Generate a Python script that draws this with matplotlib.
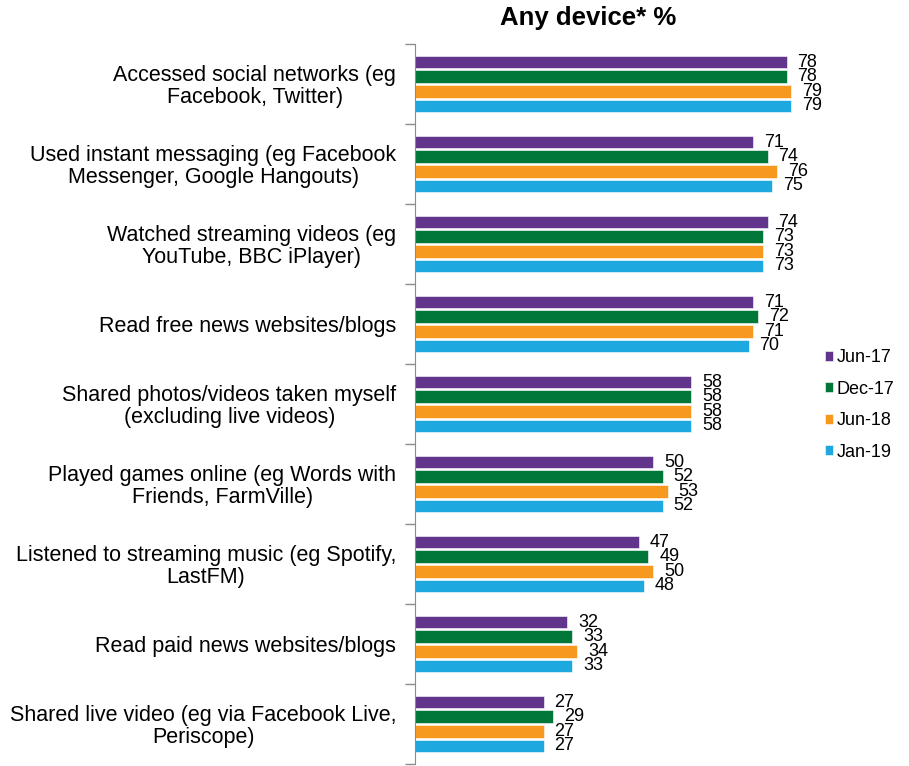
import numpy as np
import matplotlib.pyplot as plt
from matplotlib.ticker import FixedLocator

plt.rcParams['font.family'] = ['Liberation Sans', 'DejaVu Sans']

# Activities, top to bottom
categories = [
    'Accessed social networks (eg\nFacebook, Twitter)',
    'Used instant messaging (eg Facebook\nMessenger, Google Hangouts)',
    'Watched streaming videos (eg\nYouTube, BBC iPlayer)',
    'Read free news websites/blogs',
    'Shared photos/videos taken myself\n(excluding live videos)',
    'Played games online (eg Words with\nFriends, FarmVille)',
    'Listened to streaming music (eg Spotify,\nLastFM)',
    'Read paid news websites/blogs',
    'Shared live video (eg via Facebook Live,\nPeriscope)',
]

waves = ['Jun-17', 'Dec-17', 'Jun-18', 'Jan-19']
jun17 = [78, 71, 74, 71, 58, 50, 47, 32, 27]
dec17 = [78, 74, 73, 72, 58, 52, 49, 33, 29]
jun18 = [79, 76, 73, 71, 58, 53, 50, 34, 27]
jan19 = [79, 75, 73, 70, 58, 52, 48, 33, 27]
series = [jun17, dec17, jun18, jan19]
colors = ['#60358B', '#02773A', '#F8991F', '#1EA8E0']

fig = plt.figure(figsize=(9.09, 7.66), dpi=100)
ax = fig.add_axes([415 / 909, 2 / 766, 405 / 909, 720 / 766])

n = len(categories)
y = np.arange(n)
pitch = 0.183
height = 0.16
for i, (vals, col, lab) in enumerate(zip(series, colors, waves)):
    pos = y + (i - 1.5) * pitch
    ax.barh(pos, vals, height=height, color=col, label=lab,
            edgecolor='white', linewidth=0.4)
    for yy, v in zip(pos, vals):
        ax.text(v + 2.3, yy, str(v), va='center', ha='left', fontsize=13)

ax.set_ylim(n - 0.5, -0.5)
ax.set_xlim(0, 85)

# labels sit at group centres, tick marks sit between groups
ax.set_yticks(y)
ax.set_yticklabels(categories, fontsize=15.5, multialignment='center',
                   linespacing=1.05)
ax.tick_params(axis='y', which='major', length=0, pad=13.5)
ax.yaxis.set_minor_locator(FixedLocator(np.arange(-0.5, n, 1)))
ax.tick_params(axis='y', which='minor', length=7, color='#8c8c8c', width=1)

ax.set_xticks([])
for s in ['top', 'right', 'bottom']:
    ax.spines[s].set_visible(False)
ax.spines['left'].set_color('#8c8c8c')

fig.text(588 / 909, 1 - 18 / 766, 'Any device* %', ha='center', va='center',
         fontsize=18.5, fontweight='bold')

handles, labels = ax.get_legend_handles_labels()
fig.legend(handles, labels, loc='center left', bbox_to_anchor=(809 / 909, 1 - 405 / 766),
           frameon=False, fontsize=13, handlelength=0.45, handleheight=0.45,
           handletextpad=0.2, labelspacing=0.8)

fig.savefig('out.png', dpi=100)
